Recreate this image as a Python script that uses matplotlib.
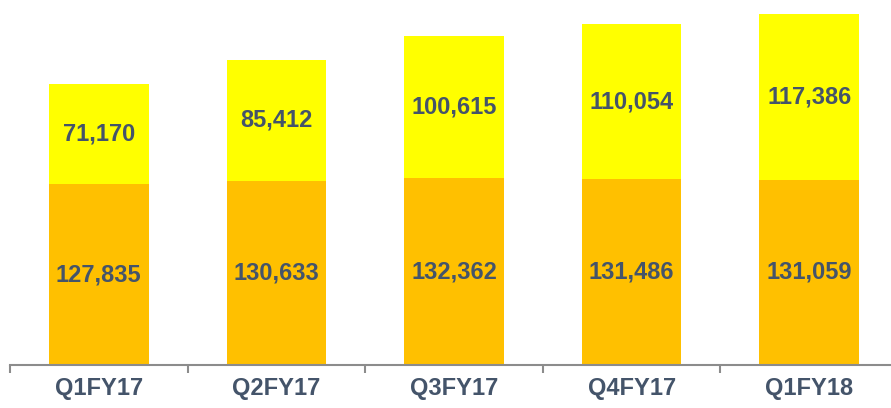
import numpy as np
import matplotlib.pyplot as plt

plt.rcParams['font.family'] = ['Liberation Sans', 'DejaVu Sans']

quarters = ['Q1FY17', 'Q2FY17', 'Q3FY17', 'Q4FY17', 'Q1FY18']
bottom_vals = [127835, 130633, 132362, 131486, 131059]
top_vals = [71170, 85412, 100615, 110054, 117386]

orange = '#FFC000'
yellow = '#FFFF00'
label_col = '#44546A'
axis_col = '#8C8C8C'

fig = plt.figure(figsize=(8.91, 4.08), dpi=100)
ax = fig.add_axes([10 / 891, 43 / 408, 888 / 891, 365 / 408])

x = np.arange(len(quarters))
w = 0.56
ax.bar(x, bottom_vals, width=w, color=orange, edgecolor='none')
ax.bar(x, top_vals, width=w, bottom=bottom_vals, color=yellow, edgecolor='none')

for i in range(len(quarters)):
    b = bottom_vals[i]
    t = top_vals[i]
    ax.text(x[i], b / 2, f'{b:,}', ha='center', va='center', fontsize=17,
            fontweight='bold', color=label_col)
    ax.text(x[i], b + t / 2, f'{t:,}', ha='center', va='center', fontsize=17,
            fontweight='bold', color=label_col)

ax.set_xlim(-0.5, len(quarters) - 0.5)
ax.set_ylim(0, 258500)

for s in ['top', 'right', 'left']:
    ax.spines[s].set_visible(False)
ax.spines['bottom'].set_color(axis_col)
ax.spines['bottom'].set_linewidth(1.5)
ax.set_yticks([])

# category labels without ticks, boundary ticks as minor
ax.set_xticks(x)
ax.set_xticklabels(quarters, fontsize=17, fontweight='bold', color=label_col)
ax.tick_params(axis='x', which='major', length=0, pad=9)
ax.set_xticks(np.arange(len(quarters) + 1) - 0.5, minor=True)
ax.tick_params(axis='x', which='minor', length=6, width=1.5, color=axis_col)

fig.savefig('out.png', dpi=100)
